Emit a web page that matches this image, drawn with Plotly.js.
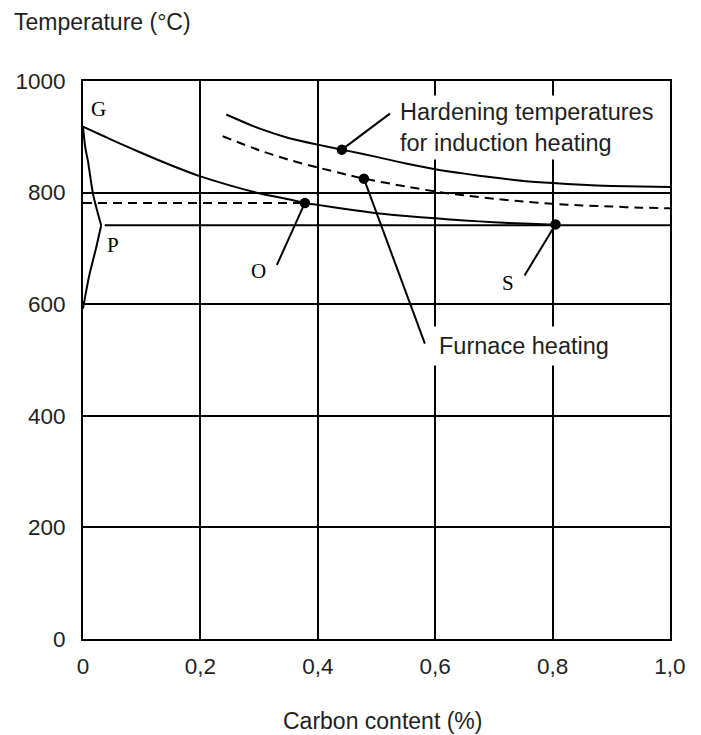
<!DOCTYPE html>
<html>
<head>
<meta charset="utf-8">
<script src="https://cdn.plot.ly/plotly-3.0.1.min.js"></script>
<style>html,body{margin:0;padding:0;background:#fff;}#chart{width:701px;height:735px;}</style>
</head>
<body>
<div id="chart"></div>
<script>
// ---- data ----
const xTickVals = [0, 0.2, 0.4, 0.6, 0.8, 1.0];
const xTickText = ['0', '0,2', '0,4', '0,6', '0,8', '1,0'];
const yTickVals = [0, 200, 400, 600, 800, 1000];

// G-O-S line (A3)
const gosX = [0, 0.05, 0.1, 0.15, 0.2, 0.25, 0.3, 0.35, 0.378, 0.4, 0.45, 0.5, 0.55, 0.6, 0.65, 0.7, 0.75, 0.805];
const gosY = [918, 894, 871, 849, 829, 813, 799, 788, 781.5, 778, 770, 763, 758, 754, 750, 747, 744.5, 742.5];

// G-P line
const gpX = [0, 0.004, 0.0085, 0.017, 0.024, 0.031];
const gpY = [918, 880, 856, 798, 768, 741.5];
// P-Q line
const pqX = [0.031, 0.0228, 0.0114, 0.0046, 0];
const pqY = [741.5, 703, 655, 619, 592];

// P-S-K line
const pskX = [0.037, 1.0];
const pskY = [741.5, 741.5];

// Hardening temperatures, induction heating
const indX = [0.244, 0.3, 0.35, 0.4, 0.441, 0.5, 0.55, 0.6, 0.65, 0.7, 0.75, 0.8, 0.85, 0.9, 0.95, 1.0];
const indY = [940, 915, 898, 886, 877, 864, 852, 842, 834, 827, 821, 817, 814, 812, 811, 810];

// Furnace heating (dashed)
const furX = [0.238, 0.3, 0.35, 0.4, 0.45, 0.4785, 0.55, 0.6, 0.65, 0.7, 0.75, 0.8, 0.85, 0.9, 0.95, 1.0];
const furY = [901, 876, 859, 845, 832, 825, 811, 802, 795, 789, 784, 780, 777, 775, 773, 772];

// dashed horizontal to O
const oLineX = [0, 0.378];
const oLineY = [781.5, 781.5];

// marked points: O, S, induction, furnace
const ptName = ['O', 'S', 'ind', 'fur'];
const ptX = [0.378, 0.805, 0.441, 0.4785];
const ptY = [781.5, 743, 877, 825];

// point letters
const letterText = ['G', 'P', 'O', 'S'];
const letterX = [0.027, 0.051, 0.2995, 0.724];
const letterY = [949, 706, 660, 638];

// ---- drawing ----
const ink = '#000';
const txt = '#231f20';
const sans = 'Liberation Sans, Arial, Helvetica, sans-serif';
const serif = 'Liberation Serif, Times New Roman, serif';
const LW = 2;

function solid(x, y) {
  return {x: x, y: y, mode: 'lines', type: 'scatter', hoverinfo: 'skip',
          line: {color: ink, width: LW, shape: 'spline', smoothing: 0.8}};
}
const traces = [
  solid(gosX, gosY),
  solid(gpX, gpY),
  solid(pqX, pqY),
  {x: pskX, y: pskY, mode: 'lines', type: 'scatter', line: {color: ink, width: LW}},
  solid(indX, indY),
  {x: furX, y: furY, mode: 'lines', type: 'scatter',
   line: {color: ink, width: LW, dash: '9px,6px', shape: 'spline', smoothing: 0.8}},
  {x: oLineX, y: oLineY, mode: 'lines', type: 'scatter',
   line: {color: ink, width: LW, dash: '9px,6px'}},
  {x: ptX, y: ptY, mode: 'markers', type: 'scatter', text: ptName,
   marker: {color: ink, size: 10.5}}
];

// leader lines anchored on the marked points, offsets in pixels
const leaderDX = [-28, -31, 48, 61];
const leaderDY = [-62, -51, 36, -165];
const shapes = ptX.map((px, i) => ({
  type: 'line', xref: 'x', yref: 'y', xsizemode: 'pixel', ysizemode: 'pixel',
  xanchor: px, yanchor: ptY[i], x0: 0, y0: 0, x1: leaderDX[i], y1: leaderDY[i],
  line: {color: ink, width: LW}, layer: 'above'
}));

const annotations = [
  {xref: 'paper', yref: 'paper', x: -0.121, y: 1.105, xanchor: 'left', yanchor: 'middle',
   text: 'Temperature (°C)', showarrow: false, font: {family: sans, size: 23, color: txt}},
  {xref: 'paper', yref: 'paper', x: 0.51, y: -0.147, xanchor: 'center', yanchor: 'middle',
   text: 'Carbon content (%)', showarrow: false, font: {family: sans, size: 23, color: txt}},
  {xref: 'x', yref: 'y', x: 0.533, y: 916, xanchor: 'left', yanchor: 'middle', align: 'left',
   text: 'Hardening temperatures<br>for induction heating', showarrow: false,
   bgcolor: '#fff', borderpad: 3, font: {family: sans, size: 23.5, color: txt}},
  {xref: 'x', yref: 'y', x: 0.594, y: 525, xanchor: 'left', yanchor: 'middle', align: 'left',
   text: 'Furnace heating', showarrow: false,
   bgcolor: '#fff', borderpad: 6, font: {family: sans, size: 23.5, color: txt}}
];
letterText.forEach((t, i) => annotations.push({
  xref: 'x', yref: 'y', x: letterX[i], y: letterY[i], xanchor: 'center', yanchor: 'middle',
  text: t, showarrow: false, font: {family: serif, size: 21, color: ink}
}));

const axisCommon = {
  showline: true, mirror: true, linecolor: ink, linewidth: LW,
  showgrid: true, gridcolor: ink, gridwidth: LW, zeroline: false,
  ticks: '', tickfont: {family: sans, size: 22.5, color: txt}, fixedrange: true
};

const layout = {
  width: 701, height: 735,
  margin: {l: 83, r: 31, t: 81, b: 96, pad: 0},
  paper_bgcolor: '#fff', plot_bgcolor: '#fff',
  showlegend: false,
  xaxis: Object.assign({}, axisCommon, {range: [0, 1], tickvals: xTickVals, ticktext: xTickText,
    ticklabelstandoff: 6}),
  yaxis: Object.assign({}, axisCommon, {range: [0, 1000], tickvals: yTickVals,
    ticklabelstandoff: 11}),
  shapes: shapes,
  annotations: annotations
};

Plotly.newPlot('chart', traces, layout, {displayModeBar: false, staticPlot: true});
</script>
</body>
</html>
